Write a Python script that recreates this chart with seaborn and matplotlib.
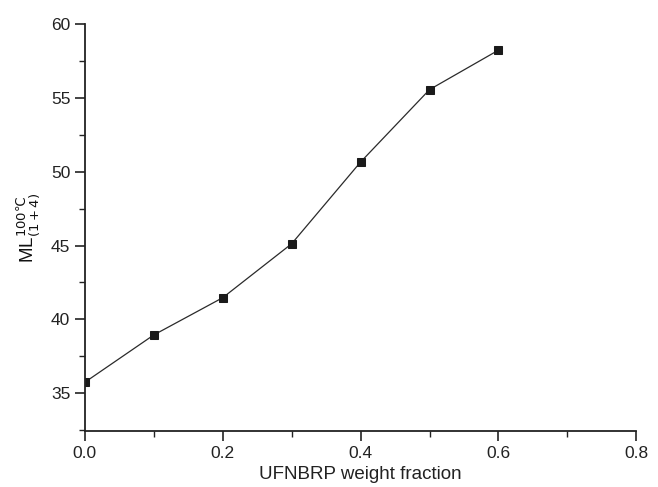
import pandas as pd
import matplotlib.pyplot as plt
import seaborn as sns
from matplotlib.ticker import MultipleLocator

# dados
fraction = [0.0, 0.1, 0.2, 0.3, 0.4, 0.5, 0.6]
mooney = [35.75, 38.95, 41.47, 45.12, 50.65, 55.55, 58.22]

df = pd.DataFrame({'fraction': fraction, 'ML': mooney})

sns.set_style('ticks')
plt.rcParams['font.family'] = ['Liberation Sans', 'DejaVu Sans']
plt.rcParams['mathtext.fontset'] = 'dejavusans'

fig = plt.figure(figsize=(6.58, 4.87), dpi=100)
ax = fig.add_axes([0.129, 0.115, 0.838, 0.836])

sns.lineplot(data=df, x='fraction', y='ML', ax=ax, color='#2a2a2a',
             linewidth=0.9, marker='s', markersize=6,
             markerfacecolor='#1a1a1a', markeredgecolor='#1a1a1a')

ax.set_xlim(0, 0.8)
ax.set_ylim(32.45, 60)
ax.xaxis.set_major_locator(MultipleLocator(0.2))
ax.xaxis.set_minor_locator(MultipleLocator(0.1))
ax.yaxis.set_major_locator(MultipleLocator(5))
ax.yaxis.set_minor_locator(MultipleLocator(2.5))
ax.set_xticklabels([f'{v:.1f}' for v in ax.get_xticks()])

ax.tick_params(axis='both', which='major', direction='out', length=7,
               width=1.2, labelsize=12.5, color='#222222', labelcolor='#222222')
ax.tick_params(axis='both', which='minor', direction='out', length=4,
               width=1.0, color='#222222')

sns.despine(ax=ax)
for s in ['left', 'bottom']:
    ax.spines[s].set_linewidth(1.3)
    ax.spines[s].set_color('#222222')

ax.set_xlabel('UFNBRP weight fraction', fontsize=13.5, color='#222222', labelpad=4)
ax.set_ylabel(r'ML$_{(1+4)}^{100℃}$', fontsize=13.5, color='#111111', labelpad=6)

plt.savefig('out.png', dpi=100)
